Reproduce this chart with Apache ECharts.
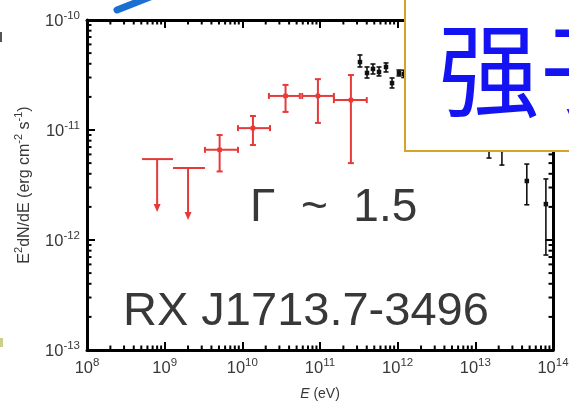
<!DOCTYPE html>
<html>
<head>
<meta charset="utf-8">
<script src="https://cdn.jsdelivr.net/npm/echarts@6/dist/echarts.min.js"></script>
<style>
  html, body { margin: 0; padding: 0; background: #fff; }
  #chart { width: 569px; height: 402px; }
</style>
</head>
<body>
<div id="chart"></div>
<script>
// Energy axis range (eV) and flux axis range (erg cm^-2 s^-1)
const xRange = [1e8, 1e14];
const yRange = [1e-13, 1e-10];

// Fermi-LAT flux points: bin centre, bin edges, flux and 1-sigma range
const latE   = [5.1e9, 1.37e10, 3.6e10, 9.4e10, 2.5e11];
const latELo = [3.3e9, 8.8e9, 2.2e10, 5.9e10, 1.51e11];
const latEHi = [8.8e9, 2.27e10, 5.5e10, 1.51e11, 4.0e11];
const latF   = [6.6e-12, 1.04e-11, 2.04e-11, 2.04e-11, 1.87e-11];
const latFLo = [4.2e-12, 7.3e-12, 1.46e-11, 1.16e-11, 5.0e-12];
const latFHi = [9.0e-12, 1.34e-11, 2.57e-11, 2.9e-11, 3.16e-11];

// Fermi-LAT upper limits at the lowest energies
const ulE    = [8.0e8, 2.0e9];
const ulELo  = [5.1e8, 1.28e9];
const ulEHi  = [1.28e9, 3.3e9];
const ulF    = [5.44e-12, 4.52e-12];
const ulTip  = [1.8e-12, 1.52e-12];

// H.E.S.S. flux points
const hessE   = [3.27e11, 4.03e11, 4.81e11, 5.75e11, 7.08e11, 8.46e11, 1.04e12, 1.2e12, 1.5e13, 2.2e13, 4.6e13, 8.1e13];
const hessF   = [4.15e-11, 3.30e-11, 3.59e-11, 3.37e-11, 3.74e-11, 2.67e-11, 3.30e-11, 3.23e-11, 8.1e-12, 6.6e-12, 3.44e-12, 2.12e-12];
const hessFLo = [3.74e-11, 2.97e-11, 3.23e-11, 3.10e-11, 3.37e-11, 2.41e-11, 3.10e-11, 3.0e-11, 5.56e-12, 4.8e-12, 2.09e-12, 7.3e-13];
const hessFHi = [4.81e-11, 3.74e-11, 3.98e-11, 3.74e-11, 4.07e-11, 2.97e-11, 3.51e-11, 3.5e-11, 1.1e-11, 9.0e-12, 4.9e-12, 3.59e-12];

// Minor tick multipliers inside each decade
const minorSteps = [2, 3, 4, 5, 6, 7, 8, 9];

const RED = '#e63a3a';
const BLACK = '#111';
const TEXT = '#383838';
const FONT = '"Liberation Sans", Arial, sans-serif';

function decadeMinors(range) {
  const out = [];
  const lo = Math.round(Math.log10(range[0]));
  const hi = Math.round(Math.log10(range[1]));
  for (let d = lo; d < hi; d++) {
    minorSteps.forEach(m => out.push(m * Math.pow(10, d)));
  }
  return out;
}
const xMinor = decadeMinors(xRange);
const yMinor = decadeMinors(yRange);

const powLabel = v => '{b|10}{s|' + Math.round(Math.log10(v)) + '}';
const labelRich = {
  b: { fontSize: 16.5, lineHeight: 20, verticalAlign: 'bottom', color: TEXT, fontFamily: FONT },
  s: { fontSize: 11.5, lineHeight: 12, verticalAlign: 'top', color: TEXT, fontFamily: FONT }
};

const axisLine = { show: true, onZero: false, lineStyle: { color: '#000', width: 3 } };
const axisTick = { show: true, inside: true, length: 8, lineStyle: { color: '#000', width: 2 } };

function seg(x1, y1, x2, y2, color, w) {
  return { type: 'line', shape: { x1, y1, x2, y2 }, style: { stroke: color, lineWidth: w } };
}

// Cross-shaped error bar with caps and a square marker
function errorBar(color, lw, cap, sq) {
  return function (params, api) {
    const e = api.value(0), f = api.value(1);
    const c = api.coord([e, f]);
    const lo = api.coord([e, api.value(2)]);
    const hi = api.coord([e, api.value(3)]);
    const kids = [
      seg(c[0], lo[1], c[0], hi[1], color, lw),
      seg(c[0] - cap, lo[1], c[0] + cap, lo[1], color, lw),
      seg(c[0] - cap, hi[1], c[0] + cap, hi[1], color, lw)
    ];
    if (api.value(4) > 0) {
      const l = api.coord([api.value(4), f]);
      const r = api.coord([api.value(5), f]);
      kids.push(seg(l[0], c[1], r[0], c[1], color, lw));
      kids.push(seg(l[0], c[1] - cap, l[0], c[1] + cap, color, lw));
      kids.push(seg(r[0], c[1] - cap, r[0], c[1] + cap, color, lw));
    }
    kids.push({ type: 'rect', shape: { x: c[0] - sq / 2, y: c[1] - sq / 2, width: sq, height: sq }, style: { fill: color } });
    return { type: 'group', children: kids };
  };
}

// Upper limit: horizontal bin bar with a downward arrow
function upperLimit(params, api) {
  const e = api.value(0), f = api.value(1);
  const c = api.coord([e, f]);
  const l = api.coord([api.value(3), f]);
  const r = api.coord([api.value(4), f]);
  const t = api.coord([e, api.value(2)]);
  return {
    type: 'group',
    children: [
      seg(l[0], c[1], r[0], c[1], RED, 2),
      seg(c[0], c[1], c[0], t[1] - 6, RED, 2),
      { type: 'polygon', shape: { points: [[c[0] - 3.5, t[1] - 8], [c[0] + 3.5, t[1] - 8], [c[0], t[1]]] }, style: { fill: RED } }
    ]
  };
}

function xMinorTicks(params, api) {
  const x = api.coord([api.value(0), yRange[0]])[0];
  const cs = params.coordSys;
  const yb = cs.y + cs.height;
  return { type: 'group', children: [seg(x, yb, x, yb - 4.5, '#000', 2), seg(x, cs.y, x, cs.y + 4.5, '#000', 2)] };
}
function yMinorTicks(params, api) {
  const y = api.coord([xRange[0], api.value(1)])[1];
  const cs = params.coordSys;
  const xr = cs.x + cs.width;
  return { type: 'group', children: [seg(cs.x, y, cs.x + 4.5, y, '#000', 2), seg(xr, y, xr - 4.5, y, '#000', 2)] };
}

const chart = echarts.init(document.getElementById('chart'), null, { renderer: 'canvas' });

chart.setOption({
  animation: false,
  backgroundColor: '#fff',
  grid: { left: 87, right: 16, top: 20, bottom: 52, containLabel: false, outerBoundsMode: 'none' },
  xAxis: [
    {
      type: 'log', logBase: 10, min: xRange[0], max: xRange[1], splitNumber: 6, position: 'bottom',
      axisLine, axisTick, splitLine: { show: false }, minorTick: { show: false },
      axisLabel: { margin: 7, fontSize: 16.5, formatter: powLabel, rich: labelRich, hideOverlap: false, showMinLabel: true, showMaxLabel: true },
      name: '{i|E} (eV)', nameLocation: 'middle', nameGap: 37,
      nameTextStyle: {
        fontSize: 14, color: TEXT, fontFamily: FONT,
        rich: { i: { fontSize: 14, fontStyle: 'italic', color: TEXT, fontFamily: FONT } }
      }
    },
    {
      type: 'log', logBase: 10, min: xRange[0], max: xRange[1], splitNumber: 6, position: 'top',
      axisLine, axisTick, splitLine: { show: false }, axisLabel: { show: false }
    }
  ],
  yAxis: [
    {
      type: 'log', logBase: 10, min: yRange[0], max: yRange[1], splitNumber: 3, position: 'left',
      axisLine, axisTick, splitLine: { show: false },
      axisLabel: { margin: 7, fontSize: 16.5, formatter: powLabel, rich: labelRich, showMinLabel: true, showMaxLabel: true },
      name: '{b|E}{s|2}{b|dN/dE (erg cm}{s|-2}{b| s}{s|-1}{b|)}',
      nameLocation: 'middle', nameRotate: 90, nameGap: 54,
      nameTextStyle: {
        rich: {
          b: { fontSize: 16, lineHeight: 20, verticalAlign: 'bottom', color: TEXT, fontFamily: FONT },
          s: { fontSize: 11, lineHeight: 11, verticalAlign: 'top', color: TEXT, fontFamily: FONT }
        }
      }
    },
    {
      type: 'log', logBase: 10, min: yRange[0], max: yRange[1], splitNumber: 3, position: 'right',
      axisLine, axisTick, splitLine: { show: false }, axisLabel: { show: false }
    }
  ],
  series: [
    {
      type: 'custom', name: 'x minor ticks', silent: true, xAxisIndex: 0, yAxisIndex: 0,
      renderItem: xMinorTicks, data: xMinor.map(v => [v, yRange[0]])
    },
    {
      type: 'custom', name: 'y minor ticks', silent: true, xAxisIndex: 0, yAxisIndex: 0,
      renderItem: yMinorTicks, data: yMinor.map(v => [xRange[0], v])
    },
    {
      type: 'custom', name: 'Fermi-LAT', xAxisIndex: 0, yAxisIndex: 0, z: 3,
      renderItem: errorBar(RED, 2, 3, 4.5),
      data: latE.map((e, i) => [e, latF[i], latFLo[i], latFHi[i], latELo[i], latEHi[i]])
    },
    {
      type: 'custom', name: 'Fermi-LAT UL', xAxisIndex: 0, yAxisIndex: 0, z: 3,
      renderItem: upperLimit,
      data: ulE.map((e, i) => [e, ulF[i], ulTip[i], ulELo[i], ulEHi[i]])
    },
    {
      type: 'custom', name: 'H.E.S.S.', xAxisIndex: 0, yAxisIndex: 0, z: 3,
      renderItem: errorBar(BLACK, 1.6, 2.5, 4.5),
      data: hessE.map((e, i) => [e, hessF[i], hessFLo[i], hessFHi[i], 0, 0])
    }
  ],
  graphic: [
    {
      type: 'text', z: 50,
      style: { text: 'Γ  ~  1.5', x: 250, y: 208.5, font: '46px ' + FONT, fill: TEXT, verticalAlign: 'middle' }
    },
    {
      type: 'text', z: 50,
      style: { text: 'RX J1713.7-3496', x: 123, y: 312, font: '47px ' + FONT, fill: TEXT, verticalAlign: 'middle' }
    },
    {
      type: 'rect', z: 100,
      shape: { x: 405, y: -10, width: 180, height: 161 },
      style: { fill: '#fff', stroke: '#d6a42b', lineWidth: 2 }
    },
    {
      type: 'text', z: 101,
      style: { text: '强子', x: 438, y: 70, font: '102px "Noto Sans CJK SC"', fill: '#1414f2', verticalAlign: 'middle' }
    },
    {
      type: 'line', z: 101,
      shape: { x1: 117, y1: 10, x2: 150, y2: -3 },
      style: { stroke: '#1b6fd3', lineWidth: 7, lineCap: 'round' }
    },
    { type: 'rect', z: 101, shape: { x: 0, y: 32, width: 2, height: 10 }, style: { fill: '#555' } },
    { type: 'rect', z: 101, shape: { x: 0, y: 338, width: 3, height: 9 }, style: { fill: '#cdd08a' } }
  ]
});
</script>
</body>
</html>
